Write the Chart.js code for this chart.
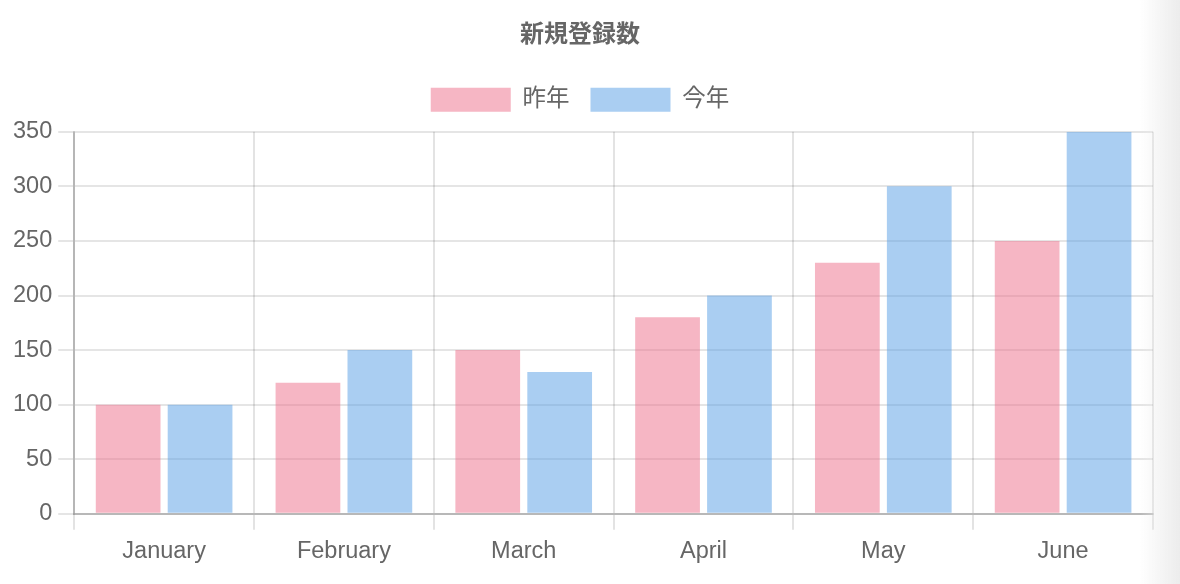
<!DOCTYPE html>
<html lang="ja">
<head>
  <meta charset="utf-8">
  <title>新規登録数</title>
  <script src="https://cdn.jsdelivr.net/npm/chart.js@4/dist/chart.umd.min.js"></script>
  <style>
    html, body { margin: 0; padding: 0; background: #fff; }
    #wrap { position: relative; width: 1180px; height: 584px; }
    #edge {
      position: absolute; top: 0; right: 0; width: 40px; height: 584px;
      background: linear-gradient(to right, rgba(240,240,240,0), rgba(236,236,236,1));
      pointer-events: none;
    }
  </style>
</head>
<body>
  <div id="wrap">
    <canvas id="bar_chart" width="1180" height="584"></canvas>
    <div id="edge"></div>
  </div>

  <script>
    var labels = ["January", "February", "March", "April", "May", "June"];
    var lastYear = [100, 120, 150, 180, 230, 250];
    var thisYear = [100, 150, 130, 200, 300, 350];
    var yTicks = [0, 50, 100, 150, 200, 250, 300, 350];

    var fontFamily = "'Liberation Sans', 'Noto Sans CJK JP', Arial, sans-serif";
    Chart.defaults.color = "#666";
    Chart.defaults.font.family = fontFamily;

    // a bit more room under the legend
    var legendGap = {
      id: "legendGap",
      beforeInit: function (chart) {
        var fit = chart.legend.fit;
        chart.legend.fit = function () {
          fit.bind(chart.legend)();
          this.height += 10;
        };
      }
    };

    var data = {
      labels: labels,
      datasets: [
        {
          label: "昨年",
          data: lastYear,
          backgroundColor: "rgba(237,109,137,0.5)",
          borderColor: "rgba(237,109,137,0.5)",
          borderWidth: 0
        },
        {
          label: "今年",
          data: thisYear,
          backgroundColor: "rgba(85,157,229,0.5)",
          borderColor: "rgba(85,157,229,0.5)",
          borderWidth: 0
        }
      ]
    };

    var myBarChart = new Chart(document.getElementById("bar_chart"), {
      type: "bar",
      data: data,
      plugins: [legendGap],
      options: {
        responsive: false,
        animation: false,
        layout: { padding: { left: 7, right: 27, top: 10, bottom: 10 } },
        plugins: {
          title: {
            display: true,
            text: "新規登録数",
            color: "#666",
            font: { size: 24, weight: "bold", family: fontFamily },
            padding: { top: 11, bottom: 17 }
          },
          legend: {
            labels: {
              boxWidth: 80,
              boxHeight: 24,
              padding: 21,
              font: { size: 23.5, family: fontFamily }
            }
          },
          tooltip: { enabled: false }
        },
        scales: {
          x: {
            grid: { color: "rgba(0,0,0,0.11)", lineWidth: 2, tickLength: 16, offset: true },
            border: { color: "rgba(0,0,0,0.2)", width: 2 },
            ticks: { font: { size: 23.5 }, padding: 8 }
          },
          y: {
            min: 0,
            max: yTicks[yTicks.length - 1],
            afterBuildTicks: function (axis) {
              axis.ticks = yTicks.map(function (v) { return { value: v }; });
            },
            grid: { color: "rgba(0,0,0,0.1)", lineWidth: 2, tickLength: 16 },
            border: { color: "rgba(0,0,0,0.2)", width: 2 },
            ticks: { font: { size: 23.5 }, padding: 6 }
          }
        }
      }
    });
  </script>
</body>
</html>
